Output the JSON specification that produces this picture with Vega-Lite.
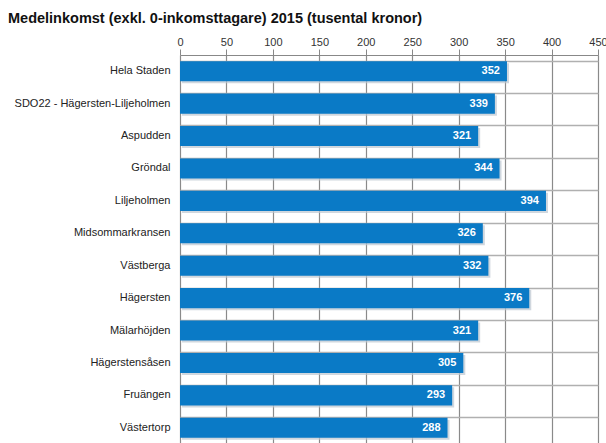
{
  "$schema": "https://vega.github.io/schema/vega-lite/v6.json",
  "width": 418,
  "height": 389,
  "autosize": {"type": "none"},
  "padding": {"left": 180, "top": 55, "right": 8, "bottom": 0},
  "background": "white",
  "title": {
    "text": "Medelinkomst (exkl. 0-inkomsttagare) 2015 (tusental kronor)",
    "anchor": "start",
    "frame": "group",
    "dx": -172,
    "fontSize": 14.5,
    "font": "Liberation Sans",
    "fontWeight": "bold",
    "color": "#111111",
    "offset": 10
  },
  "config": {"view": {"stroke": null}},
  "data": {
    "values": [
      {"omrade": "Hela Staden", "inkomst": 352},
      {"omrade": "SDO22 - Hägersten-Liljeholmen", "inkomst": 339},
      {"omrade": "Aspudden", "inkomst": 321},
      {"omrade": "Gröndal", "inkomst": 344},
      {"omrade": "Liljeholmen", "inkomst": 394},
      {"omrade": "Midsommarkransen", "inkomst": 326},
      {"omrade": "Västberga", "inkomst": 332},
      {"omrade": "Hägersten", "inkomst": 376},
      {"omrade": "Mälarhöjden", "inkomst": 321},
      {"omrade": "Hägerstensåsen", "inkomst": 305},
      {"omrade": "Fruängen", "inkomst": 293},
      {"omrade": "Västertorp", "inkomst": 288}
    ]
  },
  "encoding": {
    "y": {
      "field": "omrade",
      "type": "nominal",
      "sort": null,
      "scale": {"paddingInner": 0.38, "paddingOuter": 0.19},
      "axis": {
        "title": null,
        "domain": false,
        "ticks": false,
        "labelPadding": 10,
        "labelFont": "Liberation Sans",
        "labelFontSize": 11,
        "labelColor": "#222222",
        "bandPosition": 0,
        "grid": true,
        "gridColor": "#b0b0b0",
        "gridWidth": 1.5,
        "labelLimit": 200
      }
    },
    "x": {
      "field": "inkomst",
      "type": "quantitative",
      "scale": {"domain": [0, 450], "nice": false},
      "axis": {
        "orient": "top",
        "title": null,
        "values": [0, 50, 100, 150, 200, 250, 300, 350, 400, 450],
        "labelFont": "Liberation Sans",
        "labelFontSize": 11,
        "labelColor": "#333333",
        "domainColor": "#888888",
        "tickColor": "#888888",
        "tickSize": 6,
        "labelPadding": 2,
        "grid": true,
        "gridColor": "#8a8a8a",
        "gridWidth": 1.2,
        "labelFlush": false
      }
    }
  },
  "layer": [
    {
      "mark": {"type": "bar", "color": "#bcc6d0", "xOffset": 2, "yOffset": 2, "opacity": 0.7}
    },
    {
      "mark": {"type": "bar", "color": "#0a7ac6"}
    },
    {
      "mark": {
        "type": "text",
        "align": "right",
        "dx": -7,
        "color": "white",
        "fontWeight": "bold",
        "font": "Liberation Sans",
        "fontSize": 11
      },
      "encoding": {"text": {"field": "inkomst", "type": "quantitative"}}
    }
  ]
}
